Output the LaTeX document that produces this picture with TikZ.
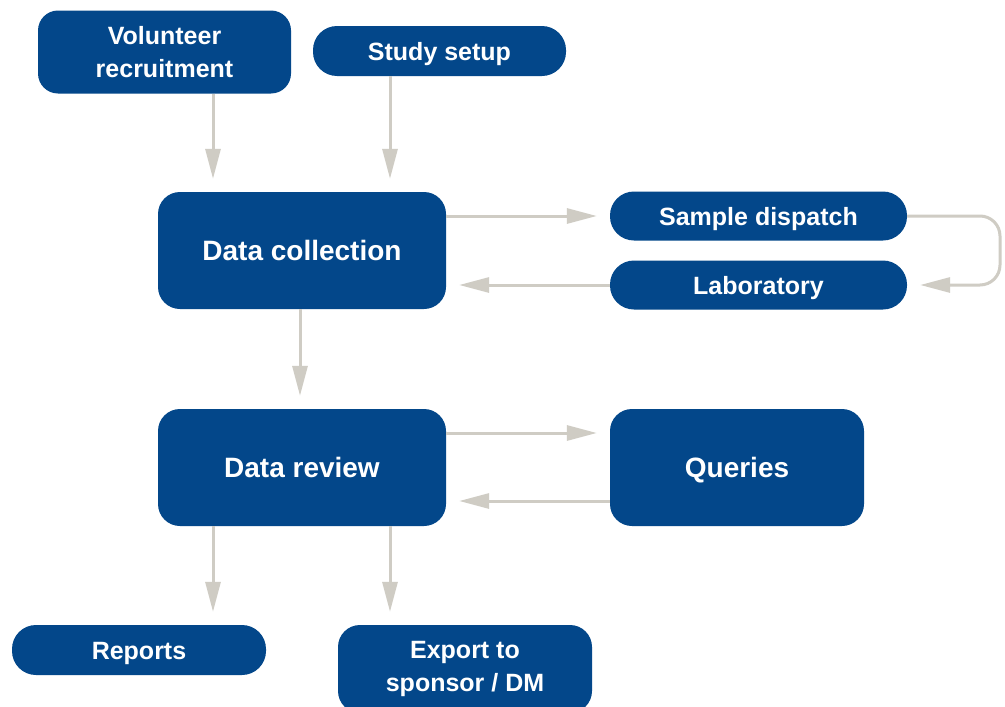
\documentclass[tikz,border=0pt]{standalone}
\usepackage{fontspec}
\setmainfont{Liberation Sans}
\usetikzlibrary{arrows.meta}
\definecolor{boxblue}{RGB}{3,71,138}
\definecolor{arrgray}{RGB}{207,204,196}
\tikzset{
  box/.style={fill=boxblue, text=white, inner sep=0pt, align=center, font=\bfseries\fontsize{25}{33}\selectfont},
  bigbox/.style={box, rounded corners=22pt, text height=20pt, text depth=0pt, font=\bfseries\fontsize{28}{34}\selectfont},
  pill/.style={box, rounded corners=24pt, text height=18pt, text depth=0pt},
  arr/.style={draw=arrgray, line width=3pt, -{Triangle[length=30pt,width=15pt]}, shorten >=13pt},
}
\begin{document}
\begin{tikzpicture}[x=1pt,y=-1pt]
\useasboundingbox (0,0) rectangle (1005,707);
\path[fill=white] (0,0) rectangle (1005,707);
% nodes
\node[box, rounded corners=20pt, minimum width=253pt, minimum height=83pt] (vol) at (164.5,52) {Volunteer\\recruitment};
\node[pill, minimum width=253pt, minimum height=50pt] (setup) at (439.5,51) {Study setup};
\node[bigbox, minimum width=288pt, minimum height=117pt] (dc) at (302,250.5) {Data collection};
\node[pill, minimum width=297pt, minimum height=49pt] (sd) at (758.5,216) {Sample dispatch};
\node[pill, minimum width=297pt, minimum height=49pt] (lab) at (758.5,285) {Laboratory};
\node[bigbox, minimum width=288pt, minimum height=117pt] (dr) at (302,467.5) {Data review};
\node[bigbox, minimum width=254pt, minimum height=117pt] (q) at (737,467.5) {Queries};
\node[pill, minimum width=254pt, minimum height=50pt] (rep) at (139,650) {Reports};
\node[box, rounded corners=22pt, minimum width=254pt, minimum height=88pt] (exp) at (465,669) {Export to\\sponsor / DM};
% connectors
\draw[arr] (vol.south -| 213,0) -- (dc.north -| 213,0);
\draw[arr] (setup.south -| 390,0) -- (dc.north -| 390,0);
\draw[arr] (dc.east |- sd.east) -- (sd.west);
\draw[arr, rounded corners=20pt] (sd.east) -- (sd.east -| 1000,0) -- (lab.east -| 1000,0) -- (lab.east);
\draw[arr] (lab.west) -- (dc.east |- lab.west);
\draw[arr] (dc.south -| 300,0) -- (dr.north -| 300,0);
\draw[arr] (dr.east |- 0,433) -- (q.west |- 0,433);
\draw[arr] (q.west |- 0,501) -- (dr.east |- 0,501);
\draw[arr] (dr.south -| 213,0) -- (rep.north -| 213,0);
\draw[arr] (dr.south -| 390,0) -- (exp.north -| 390,0);
\end{tikzpicture}
\end{document}
